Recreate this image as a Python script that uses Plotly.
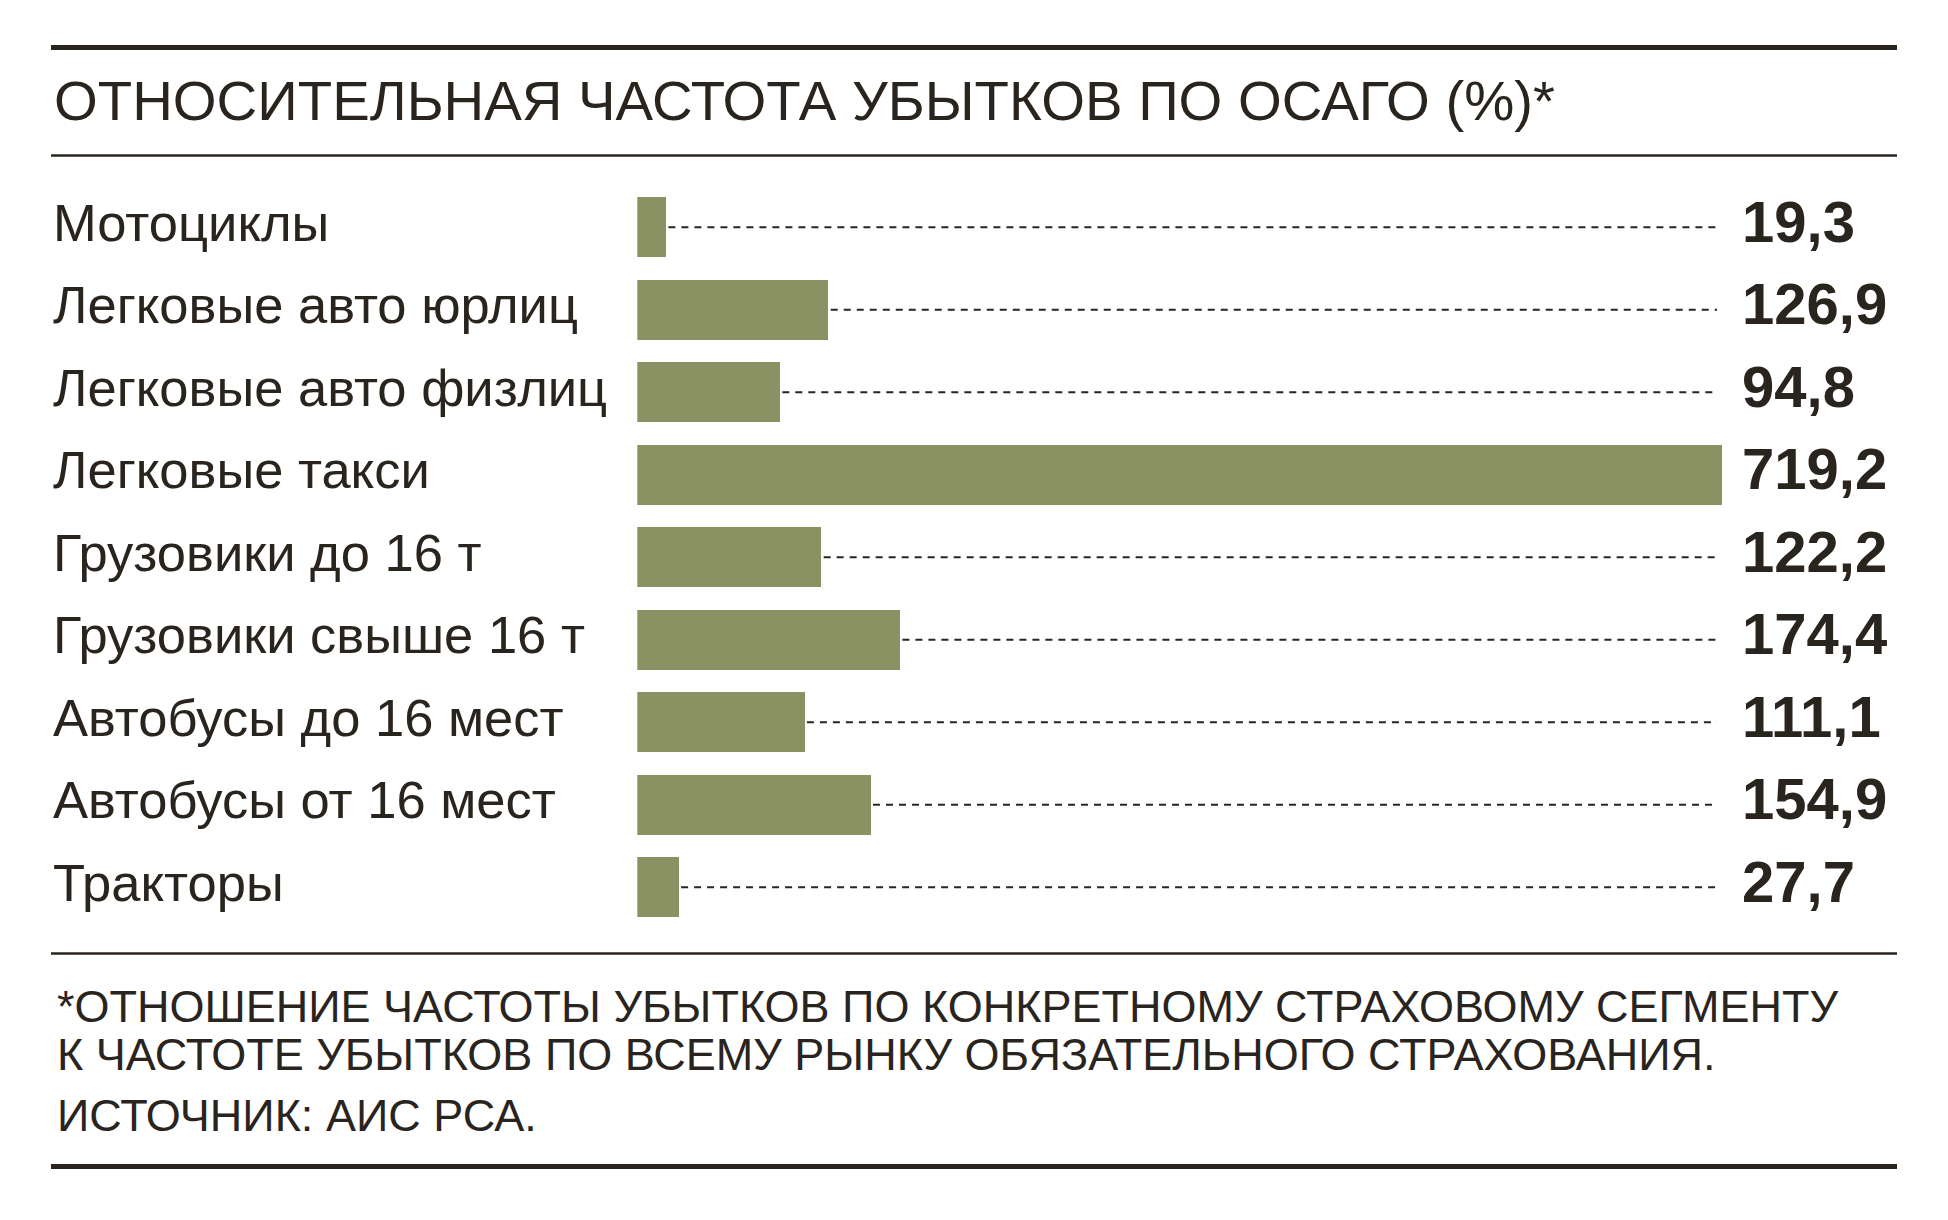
import plotly.graph_objects as go

# ---- data ----
categories = [
    "Мотоциклы",
    "Легковые авто юрлиц",
    "Легковые авто физлиц",
    "Легковые такси",
    "Грузовики до 16 т",
    "Грузовики свыше 16 т",
    "Автобусы до 16 мест",
    "Автобусы от 16 мест",
    "Тракторы",
]
values = [19.3, 126.9, 94.8, 719.2, 122.2, 174.4, 111.1, 154.9, 27.7]
value_labels = ["19,3", "126,9", "94,8", "719,2", "122,2", "174,4", "111,1", "154,9", "27,7"]

title_text = "ОТНОСИТЕЛЬНАЯ ЧАСТОТА УБЫТКОВ ПО ОСАГО (%)*"
footnote_lines = [
    "*ОТНОШЕНИЕ ЧАСТОТЫ УБЫТКОВ ПО КОНКРЕТНОМУ СТРАХОВОМУ СЕГМЕНТУ",
    "К ЧАСТОТЕ УБЫТКОВ ПО ВСЕМУ РЫНКУ ОБЯЗАТЕЛЬНОГО СТРАХОВАНИЯ.",
]
source_text = "ИСТОЧНИК: АИС РСА."

# ---- layout constants (pixels) ----
W, H = 1948, 1220
PLOT_LEFT, PLOT_RIGHT = 637.3, 1722.3
ROW_TOP, ROW_BOTTOM = 186.0, 928.6
LEADER_END = 1717.0
RULE_X0, RULE_X1 = 51, 1897
TEXT_COLOR = "#2a241f"
BAR_COLOR = "#8a9162"
FONT = "Liberation Sans, Arial, sans-serif"

XMAX = max(values)
n = len(categories)


def px_x(px):
    return px / W


def px_y(py):
    return 1 - py / H


fig = go.Figure()
fig.add_trace(
    go.Bar(
        x=values,
        y=list(range(n)),
        orientation="h",
        marker=dict(color=BAR_COLOR, line=dict(width=0)),
        width=0.727,
        hoverinfo="skip",
    )
)

shapes = []
annotations = []

# leader lines
leader_end_data = (LEADER_END - PLOT_LEFT) / (PLOT_RIGHT - PLOT_LEFT) * XMAX
gap = 2.0 / ((PLOT_RIGHT - PLOT_LEFT) / XMAX)
for i, v in enumerate(values):
    if v + gap < leader_end_data:
        shapes.append(
            dict(
                type="line", xref="x", yref="y",
                x0=v + gap, x1=leader_end_data, y0=i, y1=i,
                line=dict(color=TEXT_COLOR, width=2, dash="7px,6px"),
                layer="below",
            )
        )

# row labels and values
for i, (c, lab) in enumerate(zip(categories, value_labels)):
    annotations.append(
        dict(
            text=c, xref="paper", yref="y", x=px_x(51), y=i,
            xanchor="left", yanchor="middle", showarrow=False, yshift=5,
            font=dict(family=FONT, size=52.5, color=TEXT_COLOR),
        )
    )
    annotations.append(
        dict(
            text="<b>" + lab + "</b>", xref="paper", yref="y", x=px_x(1740), y=i,
            xanchor="left", yanchor="middle", showarrow=False, yshift=6,
            font=dict(family=FONT, size=58, color=TEXT_COLOR),
        )
    )

# title
annotations.append(
    dict(
        text=title_text, xref="paper", yref="paper", x=px_x(52), y=px_y(101),
        xanchor="left", yanchor="middle", showarrow=False,
        font=dict(family=FONT, size=56.3, color=TEXT_COLOR),
    )
)
# footnotes
for py, t in zip([1006, 1054], footnote_lines):
    annotations.append(
        dict(
            text=t, xref="paper", yref="paper", x=px_x(55), y=px_y(py),
            xanchor="left", yanchor="middle", showarrow=False,
            font=dict(family=FONT, size=45, color=TEXT_COLOR),
        )
    )
annotations.append(
    dict(
        text=source_text, xref="paper", yref="paper", x=px_x(55), y=px_y(1115),
        xanchor="left", yanchor="middle", showarrow=False,
        font=dict(family=FONT, size=45, color=TEXT_COLOR),
    )
)

# rules
for py, w in [(47.5, 5), (155.5, 2.5), (953.5, 2.5), (1166.5, 5)]:
    shapes.append(
        dict(
            type="line", xref="paper", yref="paper",
            x0=px_x(RULE_X0), x1=px_x(RULE_X1), y0=px_y(py), y1=px_y(py),
            line=dict(color=TEXT_COLOR, width=w),
        )
    )

fig.update_layout(
    width=W, height=H,
    margin=dict(l=0, r=0, t=0, b=0),
    paper_bgcolor="white", plot_bgcolor="white",
    showlegend=False,
    xaxis=dict(
        domain=[px_x(PLOT_LEFT), px_x(PLOT_RIGHT)], range=[0, XMAX],
        visible=False, fixedrange=True,
    ),
    yaxis=dict(
        domain=[px_y(ROW_BOTTOM), px_y(ROW_TOP)], range=[n - 0.5, -0.5],
        visible=False, fixedrange=True,
    ),
    shapes=shapes,
    annotations=annotations,
    bargap=0,
)

fig.write_html("out.html")
